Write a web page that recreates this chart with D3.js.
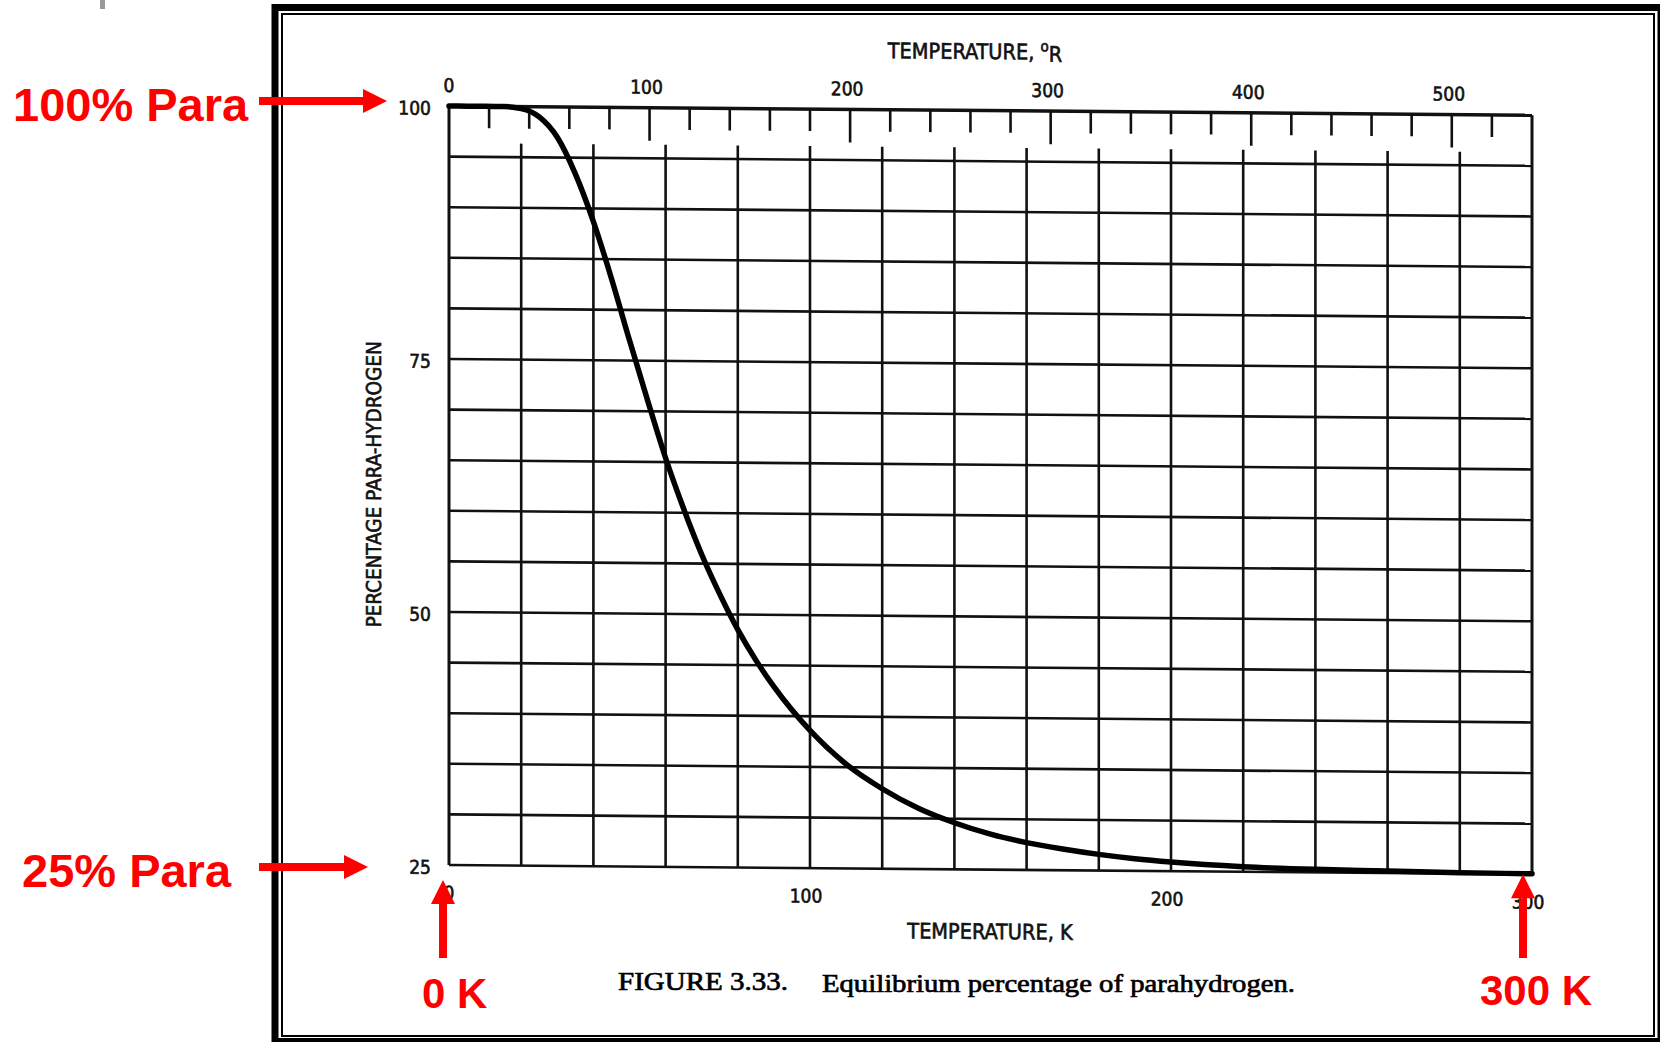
<!DOCTYPE html>
<html>
<head>
<meta charset="utf-8">
<script src="https://cdn.jsdelivr.net/npm/d3@7"></script>
<style>
    body { margin: 0; background: #fff; }
    #chart-area { width: 1660px; height: 1042px; }
    .scan-text { font-family: "DejaVu Sans Condensed", "Liberation Sans Narrow", sans-serif; fill: #111; stroke: #111; stroke-width: 0.6; }
    .note { font-family: "Liberation Sans", Arial, sans-serif; font-weight: bold; fill: #ff0000; }
</style>
</head>
<body>
<div id="chart-area"></div>
<script>
// equilibrium para-hydrogen
const tempK = [0, 5, 10, 15, 20, 25, 30, 35, 40, 45, 50, 55, 60, 65, 70, 75, 80, 85, 90, 100,
    110, 120, 130, 140, 150, 160, 170, 180, 190, 200, 220, 240, 260, 280, 300];
const paraPct = [100, 100, 100, 100, 99.8, 99.0, 97.0, 93.4, 88.7, 83.1, 77.0, 71.1, 65.4, 60.4, 55.9, 52.0, 48.5, 45.5, 42.9, 38.6,
    35.3, 32.9, 31.0, 29.6, 28.5, 27.7, 27.1, 26.6, 26.2, 25.9, 25.5, 25.3, 25.2, 25.1, 25.05];

const kelvinTicks = [0, 100, 200, 300];
const rankineTicks = [0, 100, 200, 300, 400, 500];
const pctTicks = [25, 50, 75, 100];

const notes = [
    { text: "100% Para", pct: 100 },
    { text: "25% Para", pct: 25 }
];
const kNotes = [
    { text: "0 K", k: 0 },
    { text: "300 K", k: 300 }
];

class ParaChart {
    constructor(parentElement) {
        this.parentElement = parentElement;
        this.initVis();
    }

    initVis() {
        let vis = this;

        vis.width = 1660;
        vis.height = 1042;
        vis.plot = { left: 449, right: 1532, top: 106, bottom: 865 };
        vis.skew = 0.49; // the scan is a bit crooked

        vis.svg = d3.select("#" + vis.parentElement)
            .append("svg")
            .attr("width", vis.width)
            .attr("height", vis.height);

        vis.svg.append("rect")
            .attr("width", vis.width)
            .attr("height", vis.height)
            .attr("fill", "#fff");

        // slide frame
        vis.svg.append("rect")
            .attr("x", 275).attr("y", 7.5)
            .attr("width", 1386).attr("height", 1034)
            .attr("fill", "none").attr("stroke", "#000").attr("stroke-width", 7);
        vis.svg.append("rect")
            .attr("x", 282).attr("y", 14)
            .attr("width", 1372).attr("height", 1022)
            .attr("fill", "none").attr("stroke", "#000").attr("stroke-width", 2);
        vis.svg.append("rect")
            .attr("x", 100).attr("y", 0)
            .attr("width", 5).attr("height", 9)
            .attr("fill", "#999");

        vis.x = d3.scaleLinear().domain([0, 300]).range([vis.plot.left, vis.plot.right]);
        vis.xR = d3.scaleLinear().domain([0, 540]).range([vis.plot.left, vis.plot.right]);
        vis.y = d3.scaleLinear().domain([25, 100]).range([vis.plot.bottom, vis.plot.top]);

        vis.g = vis.svg.append("g")
            .attr("transform", `translate(${vis.plot.left},${vis.plot.top}) skewY(${vis.skew}) translate(${-vis.plot.left},${-vis.plot.top})`);

        vis.wrangleData();
    }

    wrangleData() {
        let vis = this;
        vis.displayData = tempK.map((t, i) => ({ t: t, p: paraPct[i] }));
        vis.updateVis();
    }

    // where a plot point lands on screen after the skew
    screen(px, py) {
        let vis = this;
        return [px, py + (px - vis.plot.left) * Math.tan(vis.skew * Math.PI / 180)];
    }

    updateVis() {
        let vis = this;
        let g = vis.g;
        let p = vis.plot;

        // horizontal grid every 5 %
        g.append("g").selectAll("line")
            .data(d3.range(25, 101, 5))
            .enter().append("line")
            .attr("x1", p.left).attr("x2", p.right)
            .attr("y1", d => vis.y(d)).attr("y2", d => vis.y(d))
            .attr("stroke", "#111")
            .attr("stroke-width", d => d === 100 ? 3.5 : 2.6);

        // vertical grid every 20 K, inner ones stop under the Rankine ticks
        g.append("g").selectAll("line")
            .data(d3.range(0, 301, 20))
            .enter().append("line")
            .attr("x1", d => vis.x(d)).attr("x2", d => vis.x(d))
            .attr("y1", d => (d === 0 || d === 300) ? p.top : p.top + 37)
            .attr("y2", p.bottom)
            .attr("stroke", "#111")
            .attr("stroke-width", d => (d === 0 || d === 300) ? 3 : 2.6);

        // Rankine ticks hanging from the top edge
        g.append("g").selectAll("line")
            .data(d3.range(20, 540, 20))
            .enter().append("line")
            .attr("x1", d => vis.xR(d)).attr("x2", d => vis.xR(d))
            .attr("y1", p.top)
            .attr("y2", d => d % 100 === 0 ? p.top + 33 : p.top + 22)
            .attr("stroke", "#111")
            .attr("stroke-width", 2.6);

        g.append("g").selectAll("text")
            .data(rankineTicks)
            .enter().append("text")
            .attr("class", "scan-text")
            .attr("x", d => vis.xR(d) - (d === 0 ? 0 : 3))
            .attr("y", p.top - 14)
            .attr("text-anchor", "middle")
            .attr("font-size", 19)
            .text(d => d);

        g.append("g").selectAll("text")
            .data(kelvinTicks)
            .enter().append("text")
            .attr("class", "scan-text")
            .attr("x", d => vis.x(d) - (d === 0 ? 0 : 4))
            .attr("y", p.bottom + 34.5)
            .attr("text-anchor", "middle")
            .attr("font-size", 19)
            .text(d => d);

        g.append("g").selectAll("text")
            .data(pctTicks)
            .enter().append("text")
            .attr("class", "scan-text")
            .attr("x", p.left - 18)
            .attr("y", d => vis.y(d) + 2)
            .attr("dominant-baseline", "central")
            .attr("text-anchor", "end")
            .attr("font-size", 19)
            .text(d => d);

        // axis titles
        let topTitle = g.append("text")
            .attr("class", "scan-text")
            .attr("x", 975)
            .attr("y", 54.5)
            .attr("text-anchor", "middle")
            .attr("font-size", 21.5);
        topTitle.append("tspan").text("TEMPERATURE, ");
        topTitle.append("tspan").attr("font-size", 15).attr("dy", -8).text("o");
        topTitle.append("tspan").attr("dy", 10).text("R");

        g.append("text")
            .attr("class", "scan-text")
            .attr("x", 990)
            .attr("y", 934.5)
            .attr("text-anchor", "middle")
            .attr("font-size", 21.5)
            .text("TEMPERATURE, K");

        g.append("text")
            .attr("class", "scan-text")
            .attr("transform", "translate(381,485) rotate(-90)")
            .attr("text-anchor", "middle")
            .attr("font-size", 20.5)
            .text("PERCENTAGE PARA-HYDROGEN");

        // the curve
        let line = d3.line()
            .x(d => vis.x(d.t))
            .y(d => vis.y(d.p))
            .curve(d3.curveMonotoneX);

        g.append("path")
            .datum(vis.displayData)
            .attr("d", line)
            .attr("fill", "none")
            .attr("stroke", "#000")
            .attr("stroke-width", 5.5)
            .attr("stroke-linecap", "round");

        // caption
        vis.svg.append("text")
            .attr("x", 618).attr("y", 990)
            .attr("font-family", "Liberation Serif, Times New Roman, serif")
            .attr("font-size", 26)
            .attr("textLength", 170)
            .attr("lengthAdjust", "spacingAndGlyphs")
            .attr("stroke", "#000").attr("stroke-width", 0.7)
            .text("FIGURE 3.33.");
        vis.svg.append("text")
            .attr("x", 822).attr("y", 992)
            .attr("font-family", "Liberation Serif, Times New Roman, serif")
            .attr("font-size", 26)
            .attr("textLength", 473)
            .attr("lengthAdjust", "spacingAndGlyphs")
            .attr("stroke", "#000").attr("stroke-width", 0.7)
            .text("Equilibrium percentage of parahydrogen.");

        vis.drawNotes();
    }

    arrow(x1, y1, x2, y2) {
        let vis = this;
        let ang = Math.atan2(y2 - y1, x2 - x1);
        let head = 24, half = 12;
        let bx = x2 - head * Math.cos(ang), by = y2 - head * Math.sin(ang);
        vis.svg.append("line")
            .attr("x1", x1).attr("y1", y1)
            .attr("x2", bx).attr("y2", by)
            .attr("stroke", "#ff0000")
            .attr("stroke-width", 8);
        let nx = -Math.sin(ang) * half, ny = Math.cos(ang) * half;
        vis.svg.append("path")
            .attr("d", `M${x2},${y2}L${bx + nx},${by + ny}L${bx - nx},${by - ny}Z`)
            .attr("fill", "#ff0000");
    }

    drawNotes() {
        let vis = this;

        notes.forEach((n, i) => {
            let [sx, sy] = vis.screen(vis.x(0), vis.y(n.pct));
            let tipX = i === 0 ? sx - 62 : sx - 81;
            let tipY = i === 0 ? sy - 5 : sy + 2;
            vis.svg.append("text")
                .attr("class", "note")
                .attr("x", i === 0 ? 13 : 22)
                .attr("y", tipY + 19.5)
                .attr("font-size", 47)
                .text(n.text);
            vis.arrow(259, tipY, tipX, tipY);
        });

        kNotes.forEach((n, i) => {
            let [sx, sy] = vis.screen(vis.x(n.k), vis.y(25));
            let tipX = i === 0 ? sx - 6 : sx - 9;
            let tipY = i === 0 ? sy + 15 : sy;
            vis.arrow(tipX, 958, tipX, tipY);
            vis.svg.append("text")
                .attr("class", "note")
                .attr("x", i === 0 ? 422 : 1480)
                .attr("y", i === 0 ? 1008 : 1005)
                .attr("font-size", 42)
                .text(n.text);
        });
    }
}

new ParaChart("chart-area");
</script>
</body>
</html>
